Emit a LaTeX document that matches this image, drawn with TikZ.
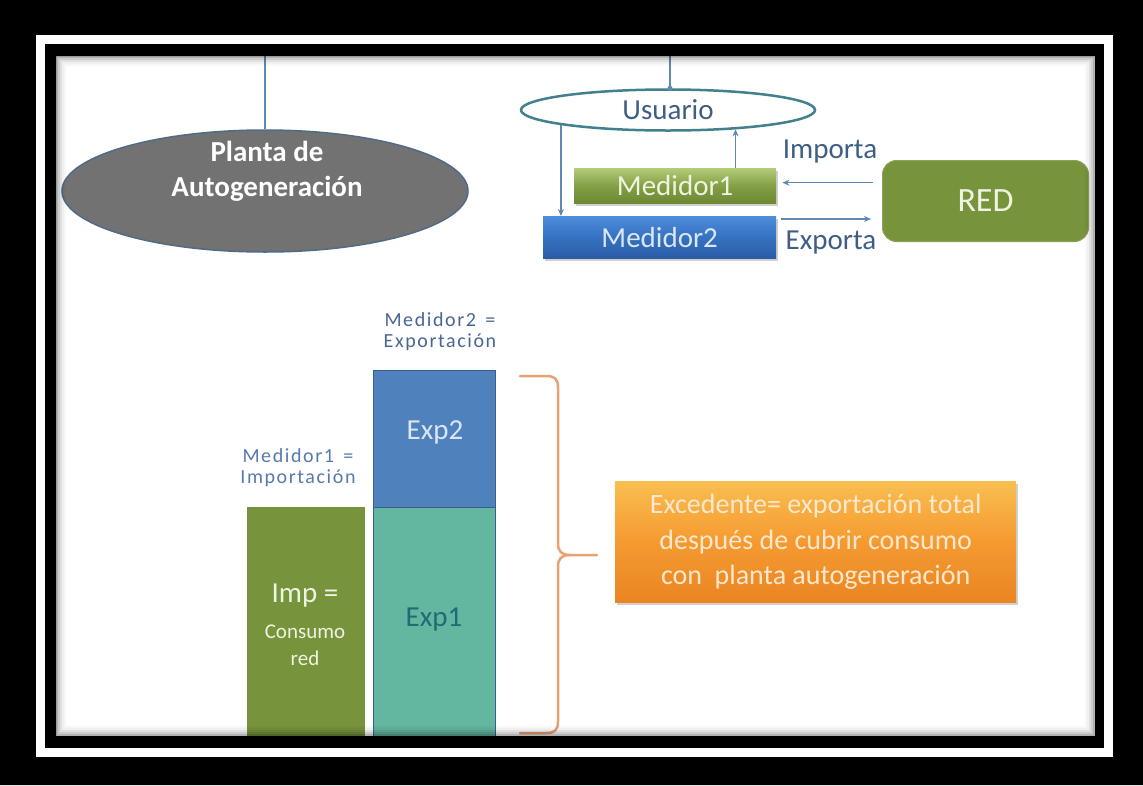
\documentclass[tikz,border=0pt]{standalone}
\usepackage{fontspec}
\setmainfont{Carlito}
\newfontfamily\spacedfont[LetterSpace=8]{Carlito}
\usetikzlibrary{shapes.geometric,shadows,calc,arrows.meta}

\definecolor{wireblue}{HTML}{6088B0}
\definecolor{plantgray}{HTML}{727272}
\definecolor{plantedge}{HTML}{4F6B88}
\definecolor{useredge}{HTML}{41808C}
\definecolor{labelblue}{HTML}{3F5E84}
\definecolor{meterAtop}{HTML}{B2CC78}
\definecolor{meterAmid}{HTML}{84A044}
\definecolor{meterAbot}{HTML}{6C8833}
\definecolor{meterBtop}{HTML}{4D8DDA}
\definecolor{meterBmid}{HTML}{3572C2}
\definecolor{meterBbot}{HTML}{2A5CA6}
\definecolor{gridgreen}{HTML}{77933C}
\definecolor{impgreen}{HTML}{77933C}
\definecolor{expblue}{HTML}{4F81BD}
\definecolor{expteal}{HTML}{63B6A0}
\definecolor{expedge}{HTML}{3A5F8E}
\definecolor{exponetext}{HTML}{1F6D74}
\definecolor{lighttext}{HTML}{EEF3E2}
\definecolor{bluelight}{HTML}{DCE6F2}
\definecolor{chartlabel}{HTML}{5779AE}
\definecolor{orangetop}{HTML}{F9BE50}
\definecolor{orangemid}{HTML}{F59A30}
\definecolor{orangebot}{HTML}{EA8522}
\definecolor{orangetext}{HTML}{FDE8CF}
\definecolor{bracecol}{HTML}{E8A272}

\begin{document}
\begin{tikzpicture}[x=1pt,y=-1pt,
  wire/.style={draw=wireblue, line width=1.6pt},
  arrowwire/.style={draw=wireblue, line width=1.4pt, -{Stealth[length=7pt,width=6pt]}},
  bigtext/.style={font=\fontsize{29}{33}\selectfont},
  corner/.style={inner sep=0pt, anchor=north west},
  chartnote/.style={font=\spacedfont\fontsize{20}{21}\selectfont, text=chartlabel, align=center, inner sep=0pt},
  softshadow/.style={drop shadow={shadow xshift=2pt, shadow yshift=-3pt, opacity=0.3, fill=black!60}}
]
% page and white sheet
\fill[black] (0,0) rectangle (1143,785);
\useasboundingbox (0,0) rectangle (1143,785);
\fill[white] (56,56) rectangle (1095,736);

% --- upper part: plant, user, meters, grid ---
\coordinate (topL) at (265,56);
\coordinate (topR) at (670,56);

\node[ellipse, draw=plantedge, line width=1.5pt, fill=plantgray,
      minimum width=406pt, minimum height=122pt, inner sep=0pt] (planta) at (265,191) {};
\node[font=\bfseries\fontsize{29}{35}\selectfont, text=white, align=center] (plantaTxt)
      at (267,171) {Planta de\\Autogeneración};
\draw[wire] (topL) -- (planta.north);

\node[ellipse, draw=useredge, line width=2.5pt, fill=white,
      minimum width=294pt, minimum height=41pt, inner sep=0pt,
      bigtext, text=labelblue] (usuario) at (668,110) {Usuario};
\draw[wire] (topR) -- (topR |- usuario.north);
\fill[wireblue] (topR |- usuario.north) circle (2.5);

\node[corner, minimum width=202pt, minimum height=35pt, softshadow,
      top color=meterAtop, bottom color=meterAbot, middle color=meterAmid] (medidor1) at (574,168) {};
\node[bigtext, text=lighttext] (medidor1Txt) at (medidor1.center) {Medidor1};

\node[corner, minimum width=233pt, minimum height=42pt, softshadow,
      top color=meterBtop, bottom color=meterBbot, middle color=meterBmid] (medidor2) at (543,216) {};
\node[bigtext, text=bluelight] (medidor2Txt) at (medidor2.center) {Medidor2};

\node[corner, minimum width=206pt, minimum height=81pt, rounded corners=14pt,
      fill=gridgreen, draw=gridgreen!85!white, line width=1pt] (red) at (882,160) {};
\node[font=\fontsize{34}{38}\selectfont, text=lighttext] (redTxt) at (red.center) {RED};

% flows between user, meters and grid
\draw[arrowwire] (usuario.188) -- (usuario.188 |- medidor2.north);
\draw[arrowwire] (medidor1.north -| usuario.344) -- (usuario.344);
\draw[arrowwire] ($(red.west |- medidor1.east)+(-9,-3)$) -- ($(medidor1.east)+(6,-3)$);
\draw[arrowwire] ($(medidor2.north east)+(5,3)$) -- ($(red.west |- medidor2.north east)+(-11,3)$);
\node[bigtext, text=labelblue] (importaTxt) at (830,152) {Importa};
\node[bigtext, text=labelblue] (exportaTxt) at (831,243) {Exporta};

% --- lower part: bar chart ---
\node[corner, minimum width=118pt, minimum height=232pt, fill=impgreen] (imp) at (247,507) {};
\node[corner, minimum width=122pt, minimum height=232pt, fill=expteal, draw=expedge, line width=1pt] (exp1) at (373,507) {};
\node[corner, minimum width=122pt, minimum height=137pt, fill=expblue, draw=expedge, line width=1pt] (exp2) at (373,370) {};

\node[bigtext, text=bluelight] (exp2Txt) at (435,432) {Exp2};
\node[bigtext, text=exponetext] (exp1Txt) at (434,619) {Exp1};
\node[bigtext, text=lighttext] (impTxt) at (305,596) {Imp =};
\node[font=\fontsize{21}{27}\selectfont, text=lighttext, align=center] (consumoTxt) at (305,645) {Consumo\\red};

\node[chartnote] (note1) at (298,468) {Medidor1 \,=\\Importación};
\node[chartnote, text=chartlabel!85!black] (note2) at (440,332) {Medidor2 \,=\\Exportación};

% brace gathering both export blocks
\coordinate (braceTop) at (520,376);
\coordinate (braceTip) at (597,555);
\coordinate (braceBot) at (520,733);
\draw[bracecol, line width=2.5pt, line cap=round, line join=round]
  (braceTop) -- (546,376) .. controls (555,376) and (558,379) .. (558,388)
  -- (558,543) .. controls (558,551) and (561,555) .. (570,555) -- (braceTip);
\draw[bracecol, line width=2.5pt, line cap=round, line join=round]
  (570,555) .. controls (561,555) and (558,559) .. (558,567)
  -- (558,721) .. controls (558,730) and (555,733) .. (546,733) -- (braceBot);

% surplus note
\node[corner, minimum width=401pt, minimum height=121pt, softshadow,
      top color=orangetop, bottom color=orangebot, middle color=orangemid] (exced) at (615,481) {};
\node[font=\fontsize{28}{35.5}\selectfont, text=orangetext, align=center] (excedTxt) at (exced.center)
  {Excedente= exportación total\\después de cubrir consumo\\con~ planta autogeneración};

% soft inner shade along the sheet edge
\foreach \d/\o in {1/0.30,3/0.20,5/0.12,7/0.06,9/0.03}
  \draw[black, opacity=\o, line width=2pt] (56+\d,56+\d) rectangle (1095-\d,736-\d);

% black mat with the thin white rule
\fill[black, even odd rule] (0,0) rectangle (1143,785) (56,56) rectangle (1095,736);
\draw[white, line width=9pt] (40,39) rectangle (1108,752);
\end{tikzpicture}
\end{document}
